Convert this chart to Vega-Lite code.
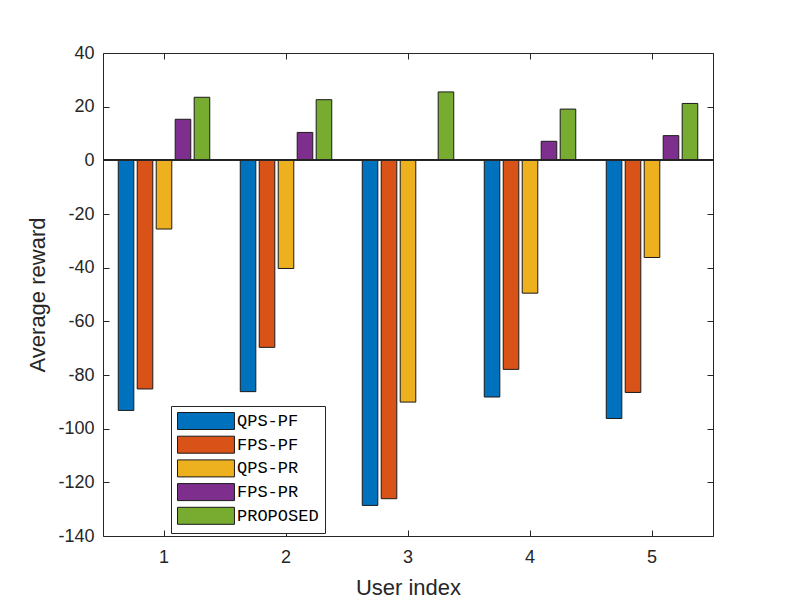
{
  "$schema": "https://vega.github.io/schema/vega-lite/v6.json",
  "width": 610,
  "height": 483,
  "autosize": "none",
  "padding": {"left": 103, "top": 53, "right": 76, "bottom": 74},
  "background": "white",
  "data": {
    "values": [
      {"user": 1, "method": "QPS-PF", "reward": -93.2},
      {"user": 2, "method": "QPS-PF", "reward": -86.2},
      {"user": 3, "method": "QPS-PF", "reward": -128.6},
      {"user": 4, "method": "QPS-PF", "reward": -88.2},
      {"user": 5, "method": "QPS-PF", "reward": -96.2},
      {"user": 1, "method": "FPS-PF", "reward": -85.2},
      {"user": 2, "method": "FPS-PF", "reward": -69.7},
      {"user": 3, "method": "FPS-PF", "reward": -126.1},
      {"user": 4, "method": "FPS-PF", "reward": -77.9},
      {"user": 5, "method": "FPS-PF", "reward": -86.5},
      {"user": 1, "method": "QPS-PR", "reward": -25.6},
      {"user": 2, "method": "QPS-PR", "reward": -40.3},
      {"user": 3, "method": "QPS-PR", "reward": -90.1},
      {"user": 4, "method": "QPS-PR", "reward": -49.5},
      {"user": 5, "method": "QPS-PR", "reward": -36.2},
      {"user": 1, "method": "FPS-PR", "reward": 15.3},
      {"user": 2, "method": "FPS-PR", "reward": 10.4},
      {"user": 3, "method": "FPS-PR", "reward": 0.3},
      {"user": 4, "method": "FPS-PR", "reward": 7.1},
      {"user": 5, "method": "FPS-PR", "reward": 9.2},
      {"user": 1, "method": "PROPOSED", "reward": 23.5},
      {"user": 2, "method": "PROPOSED", "reward": 22.6},
      {"user": 3, "method": "PROPOSED", "reward": 25.5},
      {"user": 4, "method": "PROPOSED", "reward": 19.1},
      {"user": 5, "method": "PROPOSED", "reward": 21.2}
    ]
  },
  "layer": [
    {
      "mark": {"type": "bar", "stroke": "#1a1a1a", "strokeWidth": 1},
      "encoding": {
        "x": {
          "field": "user",
          "type": "ordinal",
          "title": "User index",
          "scale": {"paddingInner": 0.25, "paddingOuter": 0.125},
          "axis": {
            "orient": "bottom",
            "domain": false,
            "grid": false,
            "tickSize": -6,
            "tickColor": "#262626",
            "labelAngle": 0,
            "labelFont": "Liberation Sans",
            "labelFontSize": 18,
            "labelColor": "#262626",
            "labelPadding": 18,
            "titleFont": "Liberation Sans",
            "titleFontSize": 22,
            "titleFontWeight": "normal",
            "titleColor": "#262626",
            "titlePadding": 11
          }
        },
        "xOffset": {
          "field": "method",
          "type": "nominal",
          "sort": ["QPS-PF", "FPS-PF", "QPS-PR", "FPS-PR", "PROPOSED"],
          "scale": {"paddingInner": 0.18, "paddingOuter": 0}
        },
        "y": {
          "field": "reward",
          "type": "quantitative",
          "title": "Average reward",
          "scale": {"domain": [-140, 40], "nice": false},
          "axis": {
            "orient": "left",
            "domain": false,
            "grid": false,
            "values": [-140, -120, -100, -80, -60, -40, -20, 0, 20, 40],
            "labelExpr": "'' + datum.value",
            "tickSize": -6,
            "tickColor": "#262626",
            "labelFont": "Liberation Sans",
            "labelFontSize": 18,
            "labelColor": "#262626",
            "labelPadding": 15,
            "titleFont": "Liberation Sans",
            "titleFontSize": 22,
            "titleFontWeight": "normal",
            "titleColor": "#262626",
            "titlePadding": 8
          }
        },
        "color": {
          "field": "method",
          "type": "nominal",
          "sort": ["QPS-PF", "FPS-PF", "QPS-PR", "FPS-PR", "PROPOSED"],
          "scale": {
            "domain": ["QPS-PF", "FPS-PF", "QPS-PR", "FPS-PR", "PROPOSED"],
            "range": ["#0072BD", "#D95319", "#EDB120", "#7E2F8E", "#77AC30"]
          },
          "legend": {
            "orient": "none",
            "legendX": 68,
            "legendY": 353,
            "title": null,
            "symbolType": "M-1,-1H5.7V1H-1Z",
            "symbolSize": 289,
            "symbolStrokeColor": "#1a1a1a",
            "symbolStrokeWidth": 1,
            "symbolOpacity": 1,
            "labelFont": "Liberation Mono",
            "labelFontSize": 17,
            "labelColor": "#000000",
            "labelOffset": 42,
            "rowPadding": 1.7,
            "padding": 6,
            "strokeColor": "#262626",
            "fillColor": "white"
          }
        }
      }
    },
    {
      "mark": {"type": "rule", "color": "#262626", "strokeWidth": 1},
      "encoding": {
        "y": {"datum": 0, "type": "quantitative", "axis": null}
      }
    },
    {
      "mark": {"type": "bar", "opacity": 0},
      "encoding": {
        "x": {
          "field": "user",
          "type": "ordinal",
          "axis": {"orient": "top", "labels": false, "domain": false, "grid": false, "tickSize": -6, "tickColor": "#262626", "title": null}
        },
        "y": {
          "field": "reward",
          "type": "quantitative",
          "axis": {"orient": "right", "labels": false, "domain": false, "grid": false, "tickSize": -6, "tickColor": "#262626", "title": null, "values": [-140, -120, -100, -80, -60, -40, -20, 0, 20, 40]}
        }
      }
    }
  ],
  "resolve": {"axis": {"x": "independent", "y": "independent"}},
  "config": {
    "view": {"stroke": "#262626", "strokeWidth": 1},
    "font": "Liberation Sans"
  }
}
